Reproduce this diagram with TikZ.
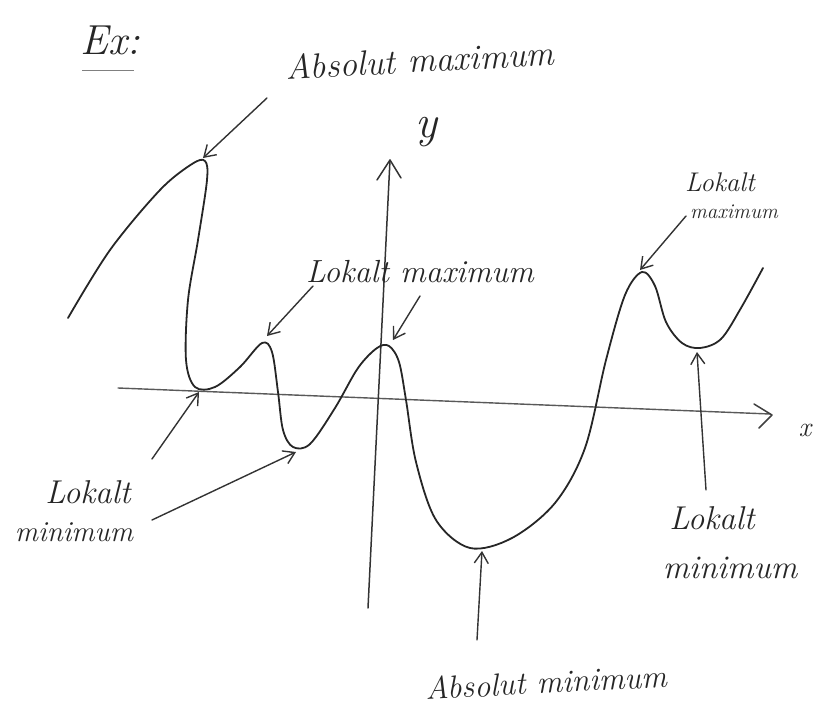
\documentclass[tikz,border=0pt]{standalone}
\usepackage{fontspec}
\usetikzlibrary{arrows.meta}
\newcommand{\fs}[1]{\fontsize{#1}{#1}\selectfont\itshape}
\begin{document}
\begin{tikzpicture}[x=1pt,y=-1pt,
  ink/.style={draw=black!85,line width=1.8pt,line cap=round,line join=round},
  pointer/.style={draw=black!80,line width=1.4pt,line cap=round,-{Straight Barb[length=11pt,width=14pt,line width=1.4pt]}},
  hand/.style={text=black!85,inner sep=0pt}]
\useasboundingbox (0,0) rectangle (820,709);
% title
\node[hand,font=\fs{42}] (ex) at (110,40) {Ex:};
\draw[black!50,line width=1pt] (82,71) -- (134,71);
% axes
\coordinate (xs) at (118,388);
\coordinate (xe) at (770,414);
\draw[black!65,line width=1.4pt,line cap=round] (xs) -- (xe);
\draw[black!75,line width=1.5pt,line cap=round,line join=round] (754,404) -- (772,415) -- (759,428);
\node[hand,font=\fs{28}] (xl) at (805,430) {x};
\coordinate (ys) at (368,608);
\coordinate (ye) at (390,160);
\draw[black!80,line width=1.5pt,line cap=round] (ys) -- (ye);
\draw[black!80,line width=1.5pt,line cap=round,line join=round] (377,180) -- (390,160) -- (401,178);
\node[hand,font=\fs{46}] (yl) at (426,132) {y};
% curve
\draw[ink] plot[smooth,tension=0.55] coordinates {
 (68,318) (110,250) (160,190) (192,164) (205,161) (207,180) (198,240) (188,300)
 (186,360) (195,387) (215,387) (240,367) (262,343) (272,352) (278,392) (283,430)
 (293,447) (310,444) (335,408) (358,368) (377,348) (389,346) (399,362) (406,400)
 (416,462) (436,520) (470,548) (512,538) (555,503) (585,448) (606,360) (625,295)
 (642,272) (655,286) (666,322) (682,343) (700,348) (721,339) (741,308) (763,268)};
% key points
\coordinate (amax) at (203,158);
\coordinate (lmax1) at (267,336);
\coordinate (lmax2) at (393,340);
\coordinate (lmax3) at (640,270);
\coordinate (lmin1) at (199,392);
\coordinate (lmin2) at (296,452);
\coordinate (lmin3) at (697,352);
\coordinate (amin) at (482,551);
% labels
\node[hand,font=\fs{35},rotate=3] (tamax) at (420,60) {Absolut maximum};
\node[hand,font=\fs{32}] (tlmax) at (420,272) {Lokalt maximum};
\node[hand,font=\fs{27}] (tlmaxr1) at (720,182) {Lokalt};
\node[hand,font=\fs{21}] (tlmaxr2) at (734,212) {maximum};
\node[hand,font=\fs{33}] (tlminl1) at (88,492) {Lokalt};
\node[hand,font=\fs{29}] (tlminl2) at (74,532) {minimum};
\node[hand,font=\fs{33}] (tlminr1) at (712,518) {Lokalt};
\node[hand,font=\fs{33}] (tlminr2) at (730,568) {minimum};
\node[hand,font=\fs{32},rotate=3] (tamin) at (546,682) {Absolut minimum};
% pointer arrows
\coordinate (p1) at (267,98);
\coordinate (p2) at (313,286);
\coordinate (p3) at (420,296);
\coordinate (p4) at (686,216);
\coordinate (p5) at (152,459);
\coordinate (p6) at (152,520);
\coordinate (p7) at (706,490);
\coordinate (p8) at (477,640);
\draw[pointer] (p1) -- (amax);
\draw[pointer] (p2) -- (lmax1);
\draw[pointer] (p3) -- (lmax2);
\draw[pointer] (p4) -- (lmax3);
\draw[pointer] (p5) -- (lmin1);
\draw[pointer] (p6) -- (lmin2);
\draw[pointer] (p7) -- (lmin3);
\draw[pointer] (p8) -- (amin);
\end{tikzpicture}
\end{document}
